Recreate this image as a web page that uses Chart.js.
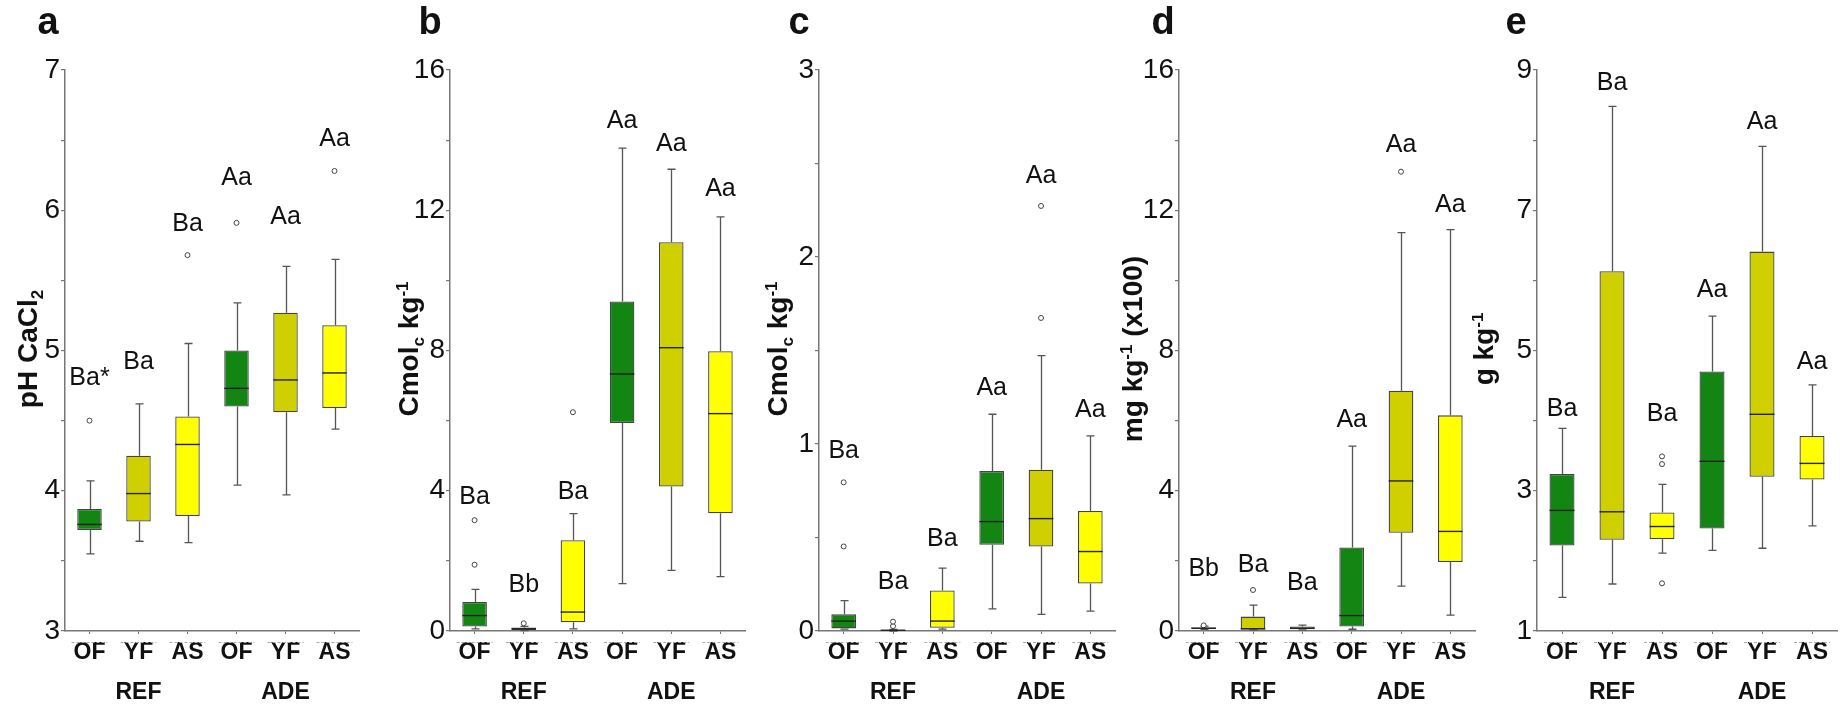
<!DOCTYPE html>
<html>
<head>
<meta charset="utf-8">
<script src="https://cdn.jsdelivr.net/npm/chart.js@4.4.1/dist/chart.umd.min.js"></script>
<style>
  body { margin: 0; background: #fff; }
  #wrap { position: relative; width: 1840px; height: 708px; overflow: hidden; }
  #wrap canvas { position: absolute; top: 0; }
</style>
</head>
<body>
<div id="wrap"></div>
<script>
// categories on the x axis, two land-use groups
const categories = ['OF', 'YF', 'AS', 'OF', 'YF', 'AS'];
const groupLabels = ['REF', 'ADE'];
const boxColors = ['#138513', '#d0d000', '#ffff00', '#138513', '#d0d000', '#ffff00'];

// box stats: [min, q1, median, q3, max]
// a - pH CaCl2
const phBoxes = [
    [3.55, 3.72, 3.76, 3.87, 4.07],
    [3.64, 3.78, 3.98, 4.25, 4.62],
    [3.63, 3.82, 4.33, 4.53, 5.05],
    [4.04, 4.60, 4.73, 5.00, 5.34],
    [3.97, 4.56, 4.79, 5.27, 5.60],
    [4.44, 4.59, 4.84, 5.18, 5.65]
];
const phOutliers = [[4.50], [], [5.68], [5.91], [], [6.28]];
const phLetters = ['Ba*', 'Ba', 'Ba', 'Aa', 'Aa', 'Aa'];
const phLetterY = [4.80, 4.92, 5.90, 6.23, 5.95, 6.51];
const phTicks = [3, 4, 5, 6, 7];

// b - Cmolc kg-1
const bBoxes = [
    [0.06, 0.13, 0.44, 0.83, 1.19],
    [0.01, 0.03, 0.06, 0.10, 0.13],
    [0.06, 0.25, 0.54, 2.59, 3.35],
    [1.35, 5.93, 7.33, 9.40, 13.77],
    [1.73, 4.12, 8.08, 11.09, 13.17],
    [1.55, 3.36, 6.20, 7.98, 11.81]
];
const bOutliers = [[3.16, 1.89], [0.22], [6.24], [], [], []];
const bLetters = ['Ba', 'Bb', 'Ba', 'Aa', 'Aa', 'Aa'];
const bLetterY = [3.83, 1.31, 3.96, 14.54, 13.9, 12.61];
const bTicks = [0, 4, 8, 12, 16];

// c - Cmolc kg-1
const cBoxes = [
    [0.01, 0.014, 0.053, 0.089, 0.162],
    [0.0, 0.002, 0.004, 0.006, 0.008],
    [0.01, 0.017, 0.053, 0.217, 0.336],
    [0.118, 0.461, 0.585, 0.855, 1.159],
    [0.089, 0.452, 0.601, 0.862, 1.473],
    [0.106, 0.254, 0.425, 0.642, 1.043]
];
const cOutliers = [[0.795, 0.452], [0.05, 0.026], [], [], [2.273, 1.674], []];
const cLetters = ['Ba', 'Ba', 'Ba', 'Aa', 'Aa', 'Aa'];
const cLetterY = [0.96, 0.26, 0.49, 1.30, 2.43, 1.18];
const cTicks = [0, 1, 2, 3];

// d - mg kg-1 (x100)
const dBoxes = [
    [0.05, 0.06, 0.08, 0.10, 0.14],
    [0.03, 0.05, 0.06, 0.41, 0.74],
    [0.03, 0.05, 0.08, 0.13, 0.17],
    [0.05, 0.13, 0.44, 2.38, 5.27],
    [1.28, 2.80, 4.28, 6.85, 11.36],
    [0.45, 1.97, 2.84, 6.15, 11.45]
];
const dOutliers = [[0.16], [1.17], [], [], [13.1], []];
const dLetters = ['Bb', 'Ba', 'Ba', 'Aa', 'Aa', 'Aa'];
const dLetterY = [1.77, 1.89, 1.38, 6.02, 13.87, 12.14];
const dTicks = [0, 4, 8, 12, 16];

// e - g kg-1
const eBoxes = [
    [1.48, 2.22, 2.72, 3.24, 3.89],
    [1.67, 2.30, 2.70, 6.13, 8.48],
    [2.11, 2.31, 2.49, 2.69, 3.09],
    [2.15, 2.46, 3.42, 4.70, 5.49],
    [2.18, 3.20, 4.09, 6.41, 7.91],
    [2.50, 3.16, 3.39, 3.78, 4.51]
];
const eOutliers = [[], [], [3.49, 3.38, 1.68], [], [], []];
const eLetters = ['Ba', 'Ba', 'Ba', 'Aa', 'Aa', 'Aa'];
const eLetterY = [4.17, 8.81, 4.09, 5.86, 8.26, 4.83];
const eTicks = [1, 3, 5, 7, 9];

const FONT = "'Liberation Sans', Arial, sans-serif";

const panels = [
    { tag: 'a', boxes: phBoxes, outliers: phOutliers, letters: phLetters, letterY: phLetterY, ticks: phTicks, step: 0.5,
      title: [{ t: 'pH CaCl' }, { t: '2', sub: true }],
      axisX: 65, axisEnd: 362, titleX: 37, tagX: 48 },
    { tag: 'b', boxes: bBoxes, outliers: bOutliers, letters: bLetters, letterY: bLetterY, ticks: bTicks, step: 2,
      title: [{ t: 'Cmol' }, { t: 'c', sub: true }, { t: ' kg' }, { t: '-1', sup: true }],
      axisX: 450, axisEnd: 748, titleX: 418, tagX: 430 },
    { tag: 'c', boxes: cBoxes, outliers: cOutliers, letters: cLetters, letterY: cLetterY, ticks: cTicks, step: 0.5,
      title: [{ t: 'Cmol' }, { t: 'c', sub: true }, { t: ' kg' }, { t: '-1', sup: true }],
      axisX: 819, axisEnd: 1118, titleX: 787, tagX: 799 },
    { tag: 'd', boxes: dBoxes, outliers: dOutliers, letters: dLetters, letterY: dLetterY, ticks: dTicks, step: 2,
      title: [{ t: 'mg kg' }, { t: '-1', sup: true }, { t: ' (x100)' }],
      axisX: 1179, axisEnd: 1478, titleX: 1142, tagX: 1163 },
    { tag: 'e', boxes: eBoxes, outliers: eOutliers, letters: eLetters, letterY: eLetterY, ticks: eTicks, step: 1,
      title: [{ t: 'g kg' }, { t: '-1', sup: true }],
      axisX: 1537, axisEnd: 1840, titleX: 1493, tagX: 1516 }
];

// draws whiskers, medians, letters and the panel decorations
function makeExtras(p, left) {
    return {
        id: 'extras' + p.tag,
        beforeDatasetsDraw(chart) {
            const x = chart.scales.x, y = chart.scales.y, ctx = chart.ctx;
            ctx.save();
            ctx.strokeStyle = '#555';
            ctx.lineWidth = 1.3;
            p.boxes.forEach((b, i) => {
                const cx = Math.round(x.getPixelForValue(i)) + 0.5;
                const yMin = y.getPixelForValue(b[0]);
                const yQ1 = y.getPixelForValue(b[1]);
                const yQ3 = y.getPixelForValue(b[3]);
                const yMax = y.getPixelForValue(b[4]);
                ctx.beginPath();
                ctx.moveTo(cx, yQ3); ctx.lineTo(cx, yMax);
                ctx.moveTo(cx - 4, yMax); ctx.lineTo(cx + 4, yMax);
                ctx.moveTo(cx, yQ1); ctx.lineTo(cx, yMin);
                ctx.moveTo(cx - 4, yMin); ctx.lineTo(cx + 4, yMin);
                ctx.stroke();
            });
            ctx.restore();
        },
        afterDatasetsDraw(chart) {
            const x = chart.scales.x, y = chart.scales.y, ctx = chart.ctx;
            const meta = chart.getDatasetMeta(0);
            ctx.save();
            ctx.strokeStyle = '#222';
            ctx.lineWidth = 1.4;
            meta.data.forEach((bar, i) => {
                const ym = y.getPixelForValue(p.boxes[i][2]);
                ctx.beginPath();
                ctx.moveTo(bar.x - bar.width / 2, ym);
                ctx.lineTo(bar.x + bar.width / 2, ym);
                ctx.stroke();
            });
            // significance letters
            ctx.fillStyle = '#111';
            ctx.font = '25px ' + FONT;
            ctx.textAlign = 'center';
            ctx.textBaseline = 'middle';
            p.letters.forEach((l, i) => {
                ctx.fillText(l, x.getPixelForValue(i), y.getPixelForValue(p.letterY[i]));
            });
            ctx.restore();
        },
        afterDraw(chart) {
            const x = chart.scales.x, ctx = chart.ctx;
            ctx.save();
            // panel tag
            ctx.fillStyle = '#111';
            ctx.font = 'bold 38px ' + FONT;
            ctx.textAlign = 'center';
            ctx.textBaseline = 'middle';
            ctx.fillText(p.tag, p.tagX - left, 24);

            // dashed group lines under each category
            ctx.strokeStyle = '#aaa';
            ctx.lineWidth = 1;
            ctx.setLineDash([3, 2]);
            categories.forEach((c, i) => {
                const cx = x.getPixelForValue(i);
                ctx.beginPath();
                ctx.moveTo(cx - 18, 642.5);
                ctx.lineTo(cx + 18, 642.5);
                ctx.stroke();
            });
            ctx.setLineDash([]);

            // REF / ADE
            ctx.font = 'bold 23px ' + FONT;
            groupLabels.forEach((g, k) => {
                ctx.fillText(g, x.getPixelForValue(k * 3 + 1), 693);
            });

            // rotated axis title with sub/superscripts
            ctx.translate(p.titleX - left, 349);
            ctx.rotate(-Math.PI / 2);
            ctx.textAlign = 'left';
            ctx.textBaseline = 'alphabetic';
            const size = 28;
            let total = 0;
            const parts = p.title.map(s => {
                const fs = (s.sub || s.sup) ? 17 : size;
                ctx.font = 'bold ' + fs + 'px ' + FONT;
                const w = ctx.measureText(s.t).width;
                total += w;
                return { t: s.t, fs: fs, w: w, dy: s.sub ? 6 : (s.sup ? -10 : 0) };
            });
            let px = -total / 2;
            parts.forEach(s => {
                ctx.font = 'bold ' + s.fs + 'px ' + FONT;
                ctx.fillText(s.t, px, s.dy);
                px += s.w;
            });
            ctx.restore();
        }
    };
}

panels.forEach(p => {
    const left = p.axisX - 65;
    const canvas = document.createElement('canvas');
    canvas.width = p.axisEnd - left + 2;
    canvas.height = 708;
    canvas.style.left = left + 'px';
    document.getElementById('wrap').appendChild(canvas);

    const ymin = p.ticks[0], ymax = p.ticks[p.ticks.length - 1];

    // one point dataset per outlier rank, null where a box has fewer outliers
    const maxOut = Math.max(...p.outliers.map(o => o.length));
    const outlierSets = [];
    for (let k = 0; k < maxOut; k++) {
        outlierSets.push({
            type: 'line',
            data: p.outliers.map(o => (o[k] === undefined ? null : o[k])),
            showLine: false,
            pointRadius: 2.5,
            pointBorderWidth: 1,
            pointBorderColor: '#444',
            pointBackgroundColor: '#fff'
        });
    }

    new Chart(canvas.getContext('2d'), {
        type: 'bar',
        data: {
            labels: categories,
            datasets: [{
                data: p.boxes.map(b => [b[1], b[3]]),
                backgroundColor: boxColors,
                borderColor: '#444',
                borderWidth: 1.3,
                borderSkipped: false,
                grouped: false,
                barPercentage: 0.5,
                categoryPercentage: 1
            }].concat(outlierSets)
        },
        options: {
            responsive: false,
            animation: false,
            layout: { padding: { top: 70, right: 2, left: 0, bottom: 0 } },
            plugins: { legend: { display: false }, tooltip: { enabled: false } },
            scales: {
                x: {
                    type: 'category',
                    offset: true,
                    afterFit: s => { s.height = 77; },
                    ticks: { font: { size: 23, weight: 'bold', family: FONT }, color: '#111', padding: 5, maxRotation: 0, autoSkip: false },
                    grid: { drawOnChartArea: false, offset: false, tickLength: 3, color: '#777' },
                    border: { color: '#777', width: 1.5 }
                },
                y: {
                    min: ymin,
                    max: ymax,
                    afterFit: s => { s.width = 65; },
                    ticks: {
                        stepSize: p.step,
                        autoSkip: false,
                        padding: 1,
                        color: '#111',
                        font: { size: 28, family: FONT },
                        callback: v => p.ticks.includes(v) ? String(v) : ''
                    },
                    grid: { drawOnChartArea: false, tickLength: 4, color: '#777', lineWidth: 1.2 },
                    border: { color: '#777', width: 1.5 }
                }
            }
        },
        plugins: [makeExtras(p, left)]
    });
});
</script>
</body>
</html>
